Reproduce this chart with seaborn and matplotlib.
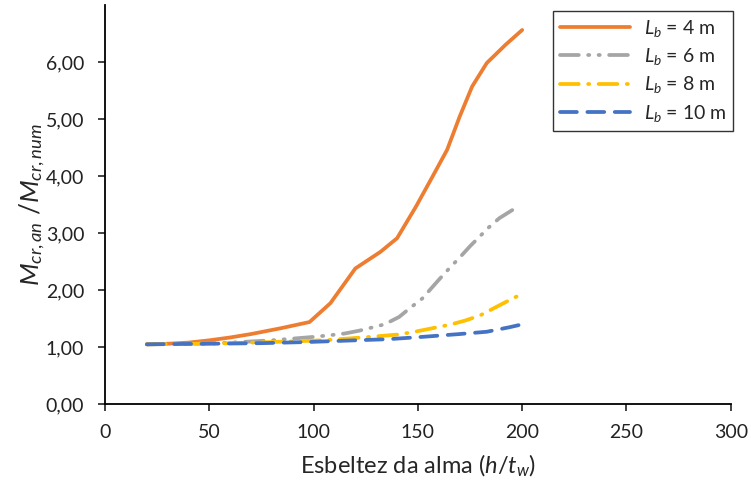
import numpy as np
import pandas as pd
import matplotlib
matplotlib.use("Agg")
import matplotlib.pyplot as plt
import seaborn as sns

# values
x_4 = [20, 30, 40, 50, 60, 70, 84, 98, 108, 120, 132, 140, 149, 157, 164, 170, 176, 183, 192, 200]
y_4 = [1.05, 1.06, 1.08, 1.12, 1.17, 1.23, 1.33, 1.44, 1.77, 2.38, 2.67, 2.91, 3.46, 3.99, 4.46, 5.04, 5.57, 5.98, 6.30, 6.56]

x_6 = [20, 40, 60, 80, 100, 108, 115, 122, 134, 141, 146, 152, 160, 165, 170, 175, 184, 189, 196]
y_6 = [1.05, 1.06, 1.08, 1.12, 1.18, 1.21, 1.24, 1.29, 1.40, 1.53, 1.68, 1.85, 2.18, 2.38, 2.57, 2.77, 3.10, 3.26, 3.42]

x_8 = [20, 50, 80, 105, 127, 140, 147, 154, 166, 173, 180, 191, 198]
y_8 = [1.05, 1.06, 1.09, 1.12, 1.18, 1.22, 1.26, 1.31, 1.40, 1.47, 1.56, 1.77, 1.90]

x_10 = [20, 50, 75, 97, 120, 136, 152, 170, 183, 194, 200]
y_10 = [1.05, 1.06, 1.07, 1.09, 1.12, 1.14, 1.18, 1.23, 1.27, 1.35, 1.40]

labels = ["$L_b$ = 4 m", "$L_b$ = 6 m", "$L_b$ = 8 m", "$L_b$ = 10 m"]
colors = ["#ED7D31", "#A5A5A5", "#FFC000", "#4472C4"]
dashes = [None, (5, 2.5, 0.3, 2.5, 0.3, 2.5), (5, 2.5, 0.3, 2.5), (4.5, 2.8)]

sns.set_style("white")
plt.rcParams["font.family"] = ["Lato", "DejaVu Sans"]
plt.rcParams["mathtext.fontset"] = "custom"
plt.rcParams["mathtext.it"] = "Lato:italic"
plt.rcParams["mathtext.rm"] = "Lato"

fig = plt.figure(figsize=(7.51, 4.87), dpi=100)
ax = fig.add_axes([0.140, 0.170, 0.833, 0.82])

series = [(x_4, y_4), (x_6, y_6), (x_8, y_8), (x_10, y_10)]
for (xs, ys), lab, c, d in zip(series, labels, colors, dashes):
    df = pd.DataFrame({"x": xs, "y": ys})
    sns.lineplot(data=df, x="x", y="y", ax=ax, color=c, lw=2.7, label=lab, sort=True)
    ln = ax.lines[-1]
    ln.set_solid_joinstyle("round")
    if d is not None:
        ln.set_dashes(d)
        ln.set_dash_capstyle("round")

ax.set_xlim(0, 300)
ax.set_ylim(0, 7)
ax.set_xticks(np.arange(0, 301, 50))
ax.set_yticks(np.arange(0, 6.5, 1))
ax.set_yticklabels([f"{v:.2f}".replace(".", ",") for v in np.arange(0, 6.5, 1)])
ax.tick_params(axis="both", labelsize=14, colors="#222222", direction="out",
               length=5, width=1.2, left=True, bottom=True)
ax.tick_params(axis="x", pad=9)
ax.tick_params(axis="y", pad=10)
for s in ["top", "right"]:
    ax.spines[s].set_visible(False)
for s in ["left", "bottom"]:
    ax.spines[s].set_color("black")
    ax.spines[s].set_linewidth(1.3)

ax.set_xlabel("Esbeltez da alma ($h$/$t_w$)", fontsize=17, labelpad=9)
ax.set_ylabel("$M_{cr,an}$ /$M_{cr,num}$", fontsize=19, labelpad=-1)

leg = ax.legend(loc="upper right", bbox_to_anchor=(1.01, 0.995), fontsize=14,
                frameon=True, fancybox=False, handlelength=3.6, labelspacing=0.38,
                borderpad=0.35, handletextpad=0.7, borderaxespad=0.2)
leg.get_frame().set_edgecolor("black")
leg.get_frame().set_linewidth(1.0)

fig.savefig("out.png", dpi=100)
